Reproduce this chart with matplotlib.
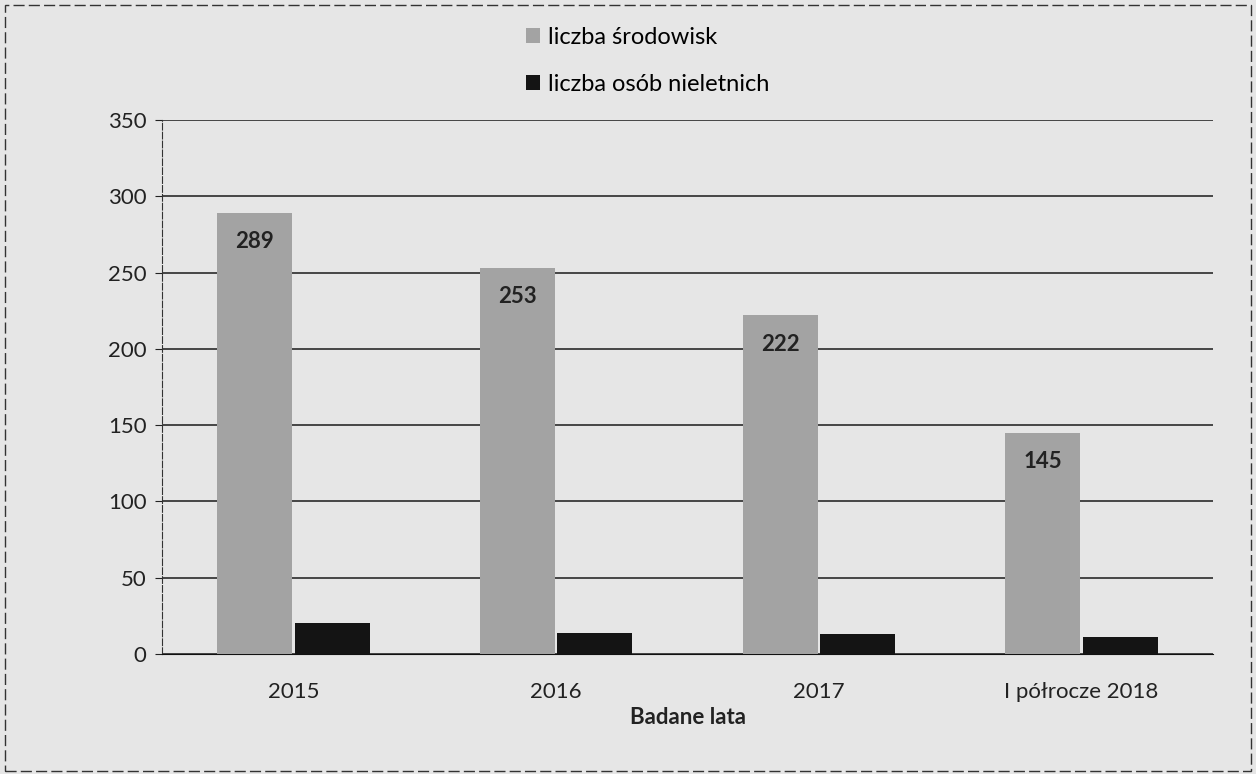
import matplotlib.pyplot as plt
import numpy as np

categories = ["2015", "2016", "2017", "I półrocze 2018"]
srodowiska = [289, 253, 222, 145]
nieletni = [20, 14, 13, 11]
series_names = ["liczba środowisk", "liczba osób nieletnich"]

plt.rcParams['font.family'] = ['Lato', 'DejaVu Sans']

bg = "#e6e6e6"
fig = plt.figure(figsize=(12.56, 7.74), dpi=100, facecolor=bg)
ax = fig.add_axes([162 / 1256, 1 - 654 / 774, (1213 - 162) / 1256, (654 - 120) / 774])
ax.set_facecolor(bg)

x = np.arange(len(categories))
w = 0.285
b1 = ax.bar(x - w / 2 - 0.005, srodowiska, w, color="#a3a3a3", label=series_names[0], zorder=3)
b2 = ax.bar(x + w / 2 + 0.005, nieletni, w, color="#141414", label=series_names[1], zorder=3)

# value labels inside the gray bars
for rect, v in zip(b1, srodowiska):
    ax.text(rect.get_x() + rect.get_width() / 2, v - 12, str(v), ha="center", va="top",
            fontsize=16, fontweight="bold", color="#222222", zorder=4)

ax.set_ylim(0, 350)
ax.set_xlim(-0.5, len(categories) - 0.5)
ax.set_yticks(range(0, 351, 50))
ax.set_xticks(x)
ax.set_xticklabels(categories)
ax.yaxis.grid(True, color="#1a1a1a", linewidth=1.1, zorder=0)
ax.tick_params(axis="both", labelsize=16, colors="#222222", length=5)
ax.tick_params(axis="y", pad=6)
ax.tick_params(axis="x", length=0, pad=20)
for s in ["top", "right"]:
    ax.spines[s].set_visible(False)
ax.spines["left"].set_color("#333333")
ax.spines["left"].set_linestyle((0, (6, 2)))
ax.spines["bottom"].set_color("#111111")
ax.set_xlabel("Badane lata", fontsize=16, fontweight="bold", color="#222222", labelpad=4)

leg = fig.legend(handles=[b1, b2], loc="upper left", bbox_to_anchor=(505 / 1256, 1 - 6 / 774),
                 ncol=1, frameon=False, fontsize=17, handlelength=0.6, handleheight=0.6,
                 handletextpad=0.3, labelspacing=1.1)

# dashed frame around the scan
frame = plt.Rectangle((0.004, 0.004), 0.992, 0.99, transform=fig.transFigure, fill=False,
                      edgecolor="#333333", linestyle=(0, (8, 3)), linewidth=1)
fig.patches.append(frame)

fig.savefig("out.png", dpi=100, facecolor=bg)
